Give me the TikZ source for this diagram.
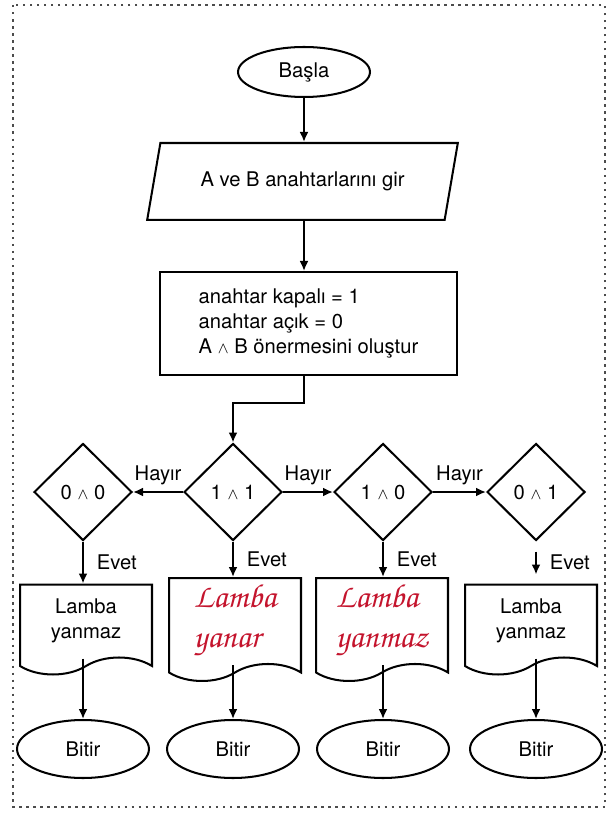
\documentclass[tikz,border=0pt]{standalone}
\usepackage{fontspec}
\setmainfont{TeX Gyre Heros}
\usetikzlibrary{shapes.geometric, shapes.symbols, arrows.meta}

\definecolor{inkred}{RGB}{196,20,45}
% pen font for the answers written in by hand
\newcommand{\pen}{\fontencoding{OT1}\fontfamily{pzc}\fontseries{mb}\fontshape{it}\selectfont}
% small "and" sign
\newcommand{\andop}{{\fontsize{9.5}{10}\selectfont$\wedge$}}

\tikzset{
  every node/.style={font=\fontsize{11.5}{14.2}\selectfont},
  frame/.style={draw=black!70, line width=0.9pt, dash pattern=on 1.4pt off 2.6pt},
  flow/.style={line width=1.15pt, ->},
  terminal/.style={draw, line width=1.15pt, ellipse, inner sep=0pt,
    minimum width=2.64cm, minimum height=1.16cm},
  io/.style={draw, line width=1.15pt, trapezium, trapezium stretches=true,
    trapezium left angle=72, trapezium right angle=108,
    minimum width=6.22cm, minimum height=1.54cm},
  process/.style={draw, line width=1.15pt, rectangle, align=left,
    minimum width=5.94cm, minimum height=2.06cm},
  decision/.style={draw, line width=1.15pt, diamond, inner sep=0pt,
    minimum width=1.96cm, minimum height=1.94cm},
  doc/.style={draw, line width=1.15pt, tape, tape bend top=none,
    tape bend bottom=in and out, tape bend height=0.34cm, align=center,
    minimum width=2.64cm, minimum height=1.8cm},
  handwritten/.style={text=inkred, align=left, font={\fontsize{19}{23}\pen}}
}

\begin{document}
\begin{tikzpicture}[x=0.02cm, y=-0.02cm, >={Latex[length=2mm,width=1.8mm]}]

\useasboundingbox (0,0) rectangle (608,813);
\draw[frame] (13,5) rectangle (605,807);

%% ---- top: start, input, process -------------------------
\node[terminal, minimum height=1.0cm] (start) at (304,72) {Başla};
\node[io] (input) at (302.5,181.5) {A ve B anahtarlarını gir};
\node[process] (proc) at (308.5,323.5)
  {anahtar kapalı = 1\\anahtar açık = 0\\A \andop{} B önermesini oluştur};

%% ---- the four checks and their end points ---------------
\foreach \i/\x/\cond in {1/83/{0 \andop{} 0}, 2/233/{1 \andop{} 1},
                         3/383/{1 \andop{} 0}, 4/536/{0 \andop{} 1}} {
  \node[decision] (c\i) at (\x,492) {\cond};
  \node[terminal] (e\i) at (\x,749) {Bitir};
}

% outputs (two of them filled in by pen)
\node[doc] (d1) at (86,621) {Lamba\\yanmaz};
\node[doc, handwritten] (d2) at (235,621) {Lamba\\yanar};
\node[doc, handwritten] (d3) at (382,621) {Lamba\\yanmaz};
\node[doc] (d4) at (531,621) {Lamba\\yanmaz};

%% ---- connectors -------------------------------------------
\draw[flow] (start) -- (start |- input.north);
\draw[flow] (input.south -| start) -- (start |- proc.north);
\coordinate (bend) at (233,403);
\draw[flow] (proc.south -| start) |- (bend) -- (c2.north);

% "no" branches
\draw[flow] (c2.west) -- node[above] {Hayır} (c1.east);
\draw[flow] (c2.east) -- node[above] {Hayır} (c3.west);
\draw[flow] (c3.east) -- node[above] {Hayır} (c4.west);

% "yes" branches
\foreach \i in {1,2,3} {
  \draw[flow] (c\i.south) -- node[right=4pt] {Evet} (c\i.south |- d\i.north);
}
\draw[flow, shorten <=0.2cm, shorten >=0.18cm]
  (c4.south) -- node[right=4pt] {Evet} (c4.south |- d4.north);

% outputs to end
\foreach \i in {1,...,4} {
  \draw[flow] (e\i.north |- d\i.south) -- (e\i.north);
}

\end{tikzpicture}
\end{document}
